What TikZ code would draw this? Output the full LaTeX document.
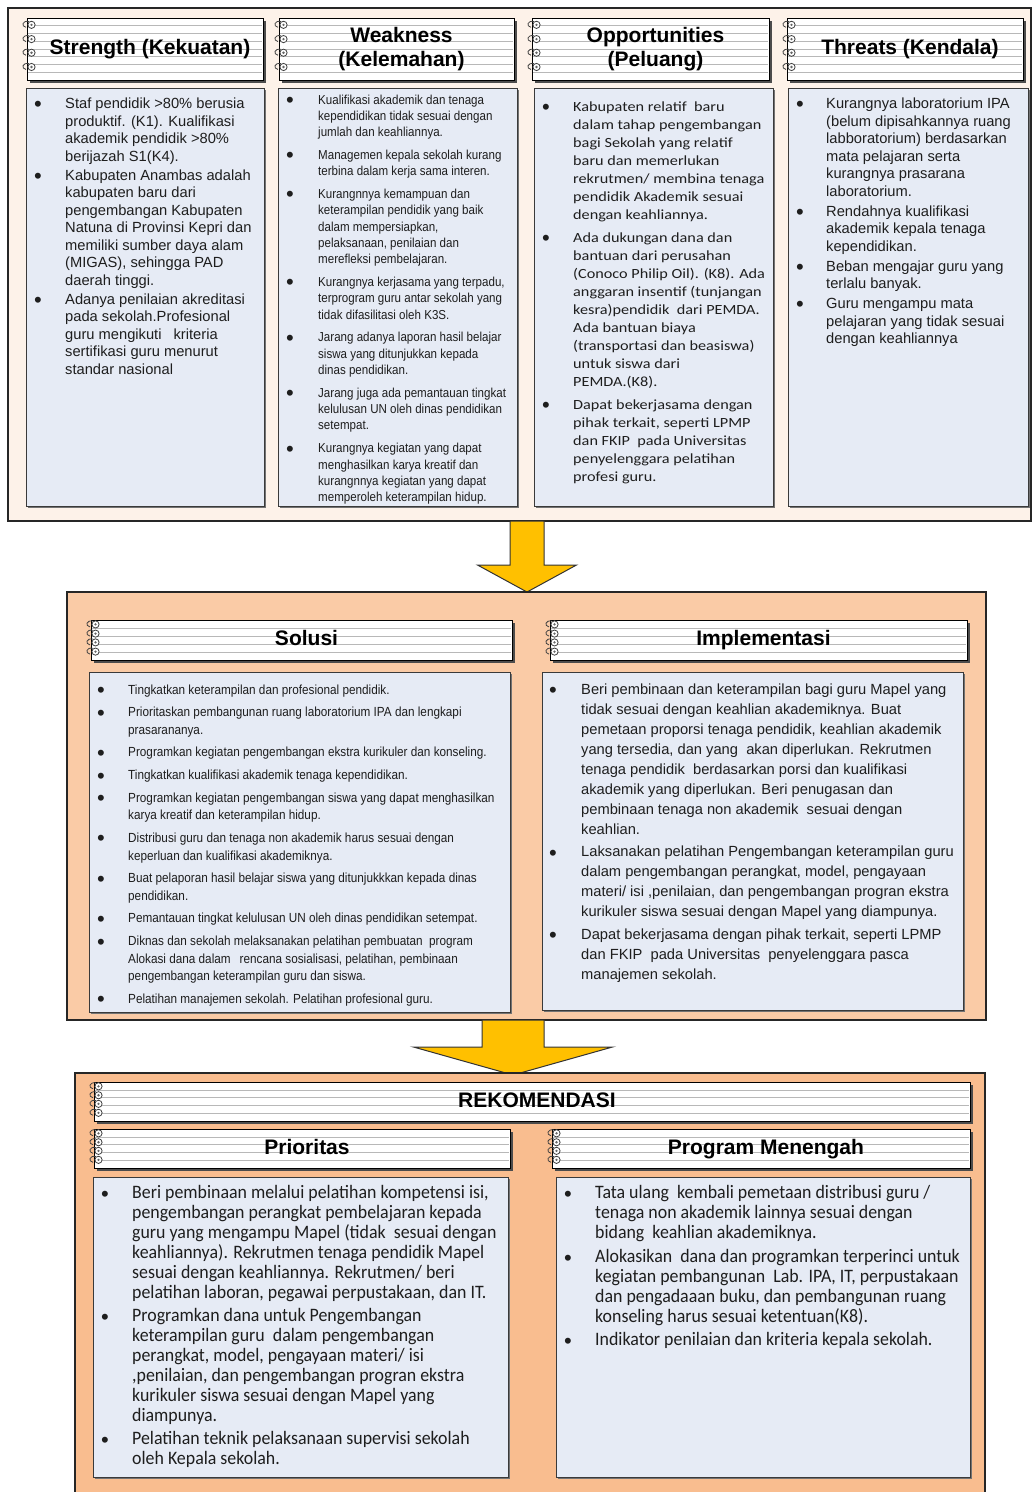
\documentclass[tikz,border=0pt]{standalone}
\usepackage{fontspec}
\usepackage{array}
\setmainfont{Liberation Sans}
\newfontfamily\narrowfont{Liberation Sans}[FakeStretch=0.89]
\newfontfamily\calfont{Carlito}[FakeStretch=0.94]
\newfontfamily\widecal{Carlito}[FakeStretch=1.16]
\newfontfamily\bulfont{Liberation Sans}

\definecolor{panelA}{HTML}{FDF2E9}
\definecolor{panelB}{HTML}{FACBA6}
\definecolor{panelC}{HTML}{F9BD8F}
\definecolor{boxfill}{HTML}{E6EBF5}
\definecolor{boxline}{HTML}{3A3A3A}
\definecolor{arrowgold}{HTML}{FFC000}
\definecolor{txt}{HTML}{1E1E1E}

\tikzset{
  panel/.style={draw=black!85, line width=1.4pt},
  cbox/.style={fill=boxfill, draw=boxline, line width=1pt},
  cshadow/.style={fill=black!55},
  hshadow/.style={fill=black!70},
  hbox/.style={draw=black, line width=0.9pt},
  hrule/.style={draw=black!28, line width=0.6pt},
  ring/.style={draw=black!75, line width=0.8pt},
  htext/.style={font=\bfseries\fontsize{21}{24}\selectfont, align=center, inner sep=0pt, text=black},
  oneline/.style={text height=15.1pt, text depth=0pt, yshift=2pt},
  blist/.style={anchor=base west, inner sep=0pt, text=txt},
  bigarrow/.style={fill=arrowgold, draw=black!80, line width=1pt, line join=miter},
}

% bullet list: #1 = bullet column width (pt), #2 = rows
\newcommand{\blst}[2]{\begin{tabular}[t]{@{}p{#1pt}@{}l@{}}#2\end{tabular}}
% large round bullet, same size in every list
\newcommand{\bu}{\raisebox{-3.4pt}{\bulfont\fontsize{22}{22}\selectfont\textbullet}}

% content box: #1 x1, #2 y1, #3 x2, #4 y2
\newcommand{\cbox}[4]{%
  \fill[cshadow] (#1+2,#2+2) rectangle (#3+2,#4+2);
  \draw[cbox] (#1,#2) rectangle (#3,#4);
}

% spiral-notebook header: [#1 text options], #2 name, #3 x1, #4 y1, #5 x2, #6 y2, #7 text
\newcommand{\nbhead}[7][]{%
  \fill[hshadow] (#3+3,#4+3) rectangle (#5+3,#6+3);
  \fill[white] (#3,#4) rectangle (#5,#6);
  \pgfmathtruncatemacro{\nl}{round((#6-#4-6)/8.5)}
  \foreach \k in {1,...,\nl}{
    \pgfmathsetmacro{\ly}{#4+\k*(#6-#4)/(\nl+1)}
    \draw[hrule] (#3+1,\ly) -- (#5-1,\ly);
  }
  \draw[hbox] (#3,#4) rectangle (#5,#6);
  \foreach \f in {0.11,0.34,0.56,0.79}{
    \pgfmathsetmacro{\ry}{#4+\f*(#6-#4)}
    \draw[ring] ({#3+2},{\ry-3.4}) .. controls ({#3-5},{\ry-4.5}) and ({#3-6},{\ry+1.5}) .. ({#3-1},{\ry+2.5});
    \draw[ring, fill=white] ({#3+4.5},\ry) circle (3.6);
    \fill[black!60] ({#3+4.5},\ry) circle (1.3);
  }
  \node[htext,#1] (#2) at ({(#3+10+#5)/2},{(#4+#6)/2}) {#7};
}

\begin{document}
\begin{tikzpicture}[x=1pt,y=-1pt]
\useasboundingbox (0,0) rectangle (1034,1492);
\fill[white] (0,0) rectangle (1034,1492);

% ---------------- SWOT panel ----------------
\draw[panel, fill=panelA] (8,8) rectangle (1031,521);

\nbhead[oneline]{hS}{27}{18}{263}{80}{Strength (Kekuatan)}
\nbhead{hW}{279}{18}{514}{80}{Weakness\\(Kelemahan)}
\nbhead{hO}{532}{18}{769}{80}{Opportunities\\(Peluang)}
\nbhead[oneline]{hT}{787}{18}{1023}{80}{Threats (Kendala)}

\cbox{26}{88}{264}{506}
\cbox{278}{88}{517}{506}
\cbox{534}{88}{773}{506}
\cbox{788}{88}{1028}{506}

\node[blist, font=\fontsize{14.7}{17.5}\selectfont] (tS) at (34,108.5) {\blst{31}{%
\bu & Staf pendidik >80\% berusia\\
    & produktif. (K1). Kualifikasi\\
    & akademik pendidik >80\%\\
    & berijazah S1(K4).\\[1.5pt]
\bu & Kabupaten Anambas adalah\\
    & kabupaten baru dari\\
    & pengembangan Kabupaten\\
    & Natuna di Provinsi Kepri dan\\
    & memiliki sumber daya alam\\
    & (MIGAS), sehingga PAD\\
    & daerah tinggi.\\[1.5pt]
\bu & Adanya penilaian akreditasi\\
    & pada sekolah.Profesional\\
    & guru mengikuti\hspace{12pt}kriteria\\
    & sertifikasi guru menurut\\
    & standar nasional}};

\node[blist, font=\narrowfont\fontsize{13}{16.3}\selectfont] (tW) at (286,104) {\blst{32}{%
\bu & Kualifikasi akademik dan tenaga\\
    & kependidikan tidak sesuai dengan\\
    & jumlah dan keahliannya.\\[6.5pt]
\bu & Managemen kepala sekolah kurang\\
    & terbina dalam kerja sama interen.\\[6.5pt]
\bu & Kurangnnya kemampuan dan\\
    & keterampilan pendidik yang baik\\
    & dalam mempersiapkan,\\
    & pelaksanaan, penilaian dan\\
    & merefleksi pembelajaran.\\[6.5pt]
\bu & Kurangnya kerjasama yang terpadu,\\
    & terprogram guru antar sekolah yang\\
    & tidak difasilitasi oleh K3S.\\[6.5pt]
\bu & Jarang adanya laporan hasil belajar\\
    & siswa yang ditunjukkan kepada\\
    & dinas pendidikan.\\[6.5pt]
\bu & Jarang juga ada pemantauan tingkat\\
    & kelulusan UN oleh dinas pendidikan\\
    & setempat.\\[6.5pt]
\bu & Kurangnya kegiatan yang dapat\\
    & menghasilkan karya kreatif dan\\
    & kurangnnya kegiatan yang dapat\\
    & memperoleh keterampilan hidup.}};

\node[blist, font=\widecal\fontsize{14}{18}\selectfont] (tO) at (542,111.5) {\blst{31}{%
\bu & Kabupaten relatif\ \ baru\\
    & dalam tahap pengembangan\\
    & bagi Sekolah yang relatif\\
    & baru dan memerlukan\\
    & rekrutmen/ membina tenaga\\
    & pendidik Akademik sesuai\\
    & dengan keahliannya.\\[5pt]
\bu & Ada dukungan dana dan\\
    & bantuan dari perusahan\\
    & (Conoco Philip Oil). (K8). Ada\\
    & anggaran insentif (tunjangan\\
    & kesra)pendidik\ \ dari PEMDA.\\
    & Ada bantuan biaya\\
    & (transportasi dan beasiswa)\\
    & untuk siswa dari\\
    & PEMDA.(K8).\\[5pt]
\bu & Dapat bekerjasama dengan\\
    & pihak terkait, seperti LPMP\\
    & dan FKIP\ \ pada Universitas\\
    & penyelenggara pelatihan\\
    & profesi guru.}};

\node[blist, font=\fontsize{14.7}{17.5}\selectfont] (tT) at (796,108.5) {\blst{30}{%
\bu & Kurangnya laboratorium IPA\\
    & (belum dipisahkannya ruang\\
    & labboratorium) berdasarkan\\
    & mata pelajaran serta\\
    & kurangnya prasarana\\
    & laboratorium.\\[2.5pt]
\bu & Rendahnya kualifikasi\\
    & akademik kepala tenaga\\
    & kependidikan.\\[2.5pt]
\bu & Beban mengajar guru yang\\
    & terlalu banyak.\\[2.5pt]
\bu & Guru mengampu mata\\
    & pelajaran yang tidak sesuai\\
    & dengan keahliannya}};

% arrow from SWOT panel down to the solution panel
\coordinate (a1) at (527,521);
\begin{scope}[shift={(a1)}]
  \draw[bigarrow] (-17,0) -- (17,0) -- (17,44) -- (49.5,44) -- (0,71) -- (-49.5,44) -- (-17,44) -- cycle;
\end{scope}

% ---------------- Solusi / Implementasi panel ----------------
\draw[panel, fill=panelB] (67,592) rectangle (986,1020);

\nbhead[oneline]{hSol}{91}{620}{512}{660}{Solusi}
\nbhead[oneline]{hImp}{550}{620}{967}{660}{Implementasi}

\cbox{89}{672}{510}{1012}
\cbox{542}{672}{963}{1010}

\node[blist, font=\narrowfont\fontsize{13.2}{17.5}\selectfont] (tSol) at (97,694) {\blst{31}{%
\bu & Tingkatkan keterampilan dan profesional pendidik.\\[5.2pt]
\bu & Prioritaskan pembangunan ruang laboratorium IPA dan lengkapi\\
    & prasarananya.\\[5.2pt]
\bu & Programkan kegiatan pengembangan ekstra kurikuler dan konseling.\\[5.2pt]
\bu & Tingkatkan kualifikasi akademik tenaga kependidikan.\\[5.2pt]
\bu & Programkan kegiatan pengembangan siswa yang dapat menghasilkan\\
    & karya kreatif dan keterampilan hidup.\\[5.2pt]
\bu & Distribusi guru dan tenaga non akademik harus sesuai dengan\\
    & keperluan dan kualifikasi akademiknya.\\[5.2pt]
\bu & Buat pelaporan hasil belajar siswa yang ditunjukkkan kepada dinas\\
    & pendidikan.\\[5.2pt]
\bu & Pemantauan tingkat kelulusan UN oleh dinas pendidikan setempat.\\[5.2pt]
\bu & Diknas dan sekolah melaksanakan pelatihan pembuatan\ \ program\\
    & Alokasi dana dalam\hspace{9pt}rencana sosialisasi, pelatihan, pembinaan\\
    & pengembangan keterampilan guru dan siswa.\\[5.2pt]
\bu & Pelatihan manajemen sekolah. Pelatihan profesional guru.}};

\node[blist, font=\fontsize{14.7}{20}\selectfont] (tImp) at (549,694.4) {\blst{32}{%
\bu & Beri pembinaan dan keterampilan bagi guru Mapel yang\\
    & tidak sesuai dengan keahlian akademiknya. Buat\\
    & pemetaan proporsi tenaga pendidik, keahlian akademik\\
    & yang tersedia, dan yang\ \ akan diperlukan. Rekrutmen\\
    & tenaga pendidik\ \ berdasarkan porsi dan kualifikasi\\
    & akademik yang diperlukan. Beri penugasan dan\\
    & pembinaan tenaga non akademik\ \ sesuai dengan\\
    & keahlian.\\[2.5pt]
\bu & Laksanakan pelatihan Pengembangan keterampilan guru\\
    & dalam pengembangan perangkat, model, pengayaan\\
    & materi/ isi ,penilaian, dan pengembangan progran ekstra\\
    & kurikuler siswa sesuai dengan Mapel yang diampunya.\\[2.5pt]
\bu & Dapat bekerjasama dengan pihak terkait, seperti LPMP\\
    & dan FKIP\ \ pada Universitas\ \ penyelenggara pasca\\
    & manajemen sekolah.}};

% arrow from the solution panel down to the recommendations
\coordinate (a2) at (513,1020);
\begin{scope}[shift={(a2)}]
  \draw[bigarrow] (-31,0) -- (31,0) -- (31,27) -- (99.5,27) -- (0,55) -- (-99.5,27) -- (-31,27) -- cycle;
\end{scope}

% ---------------- Rekomendasi panel ----------------
\draw[panel, fill=panelC] (75,1073) rectangle (985,1500);

\nbhead[oneline]{hRek}{94}{1082}{970}{1121}{REKOMENDASI}
\nbhead[oneline]{hPri}{94}{1129}{510}{1168}{Prioritas}
\nbhead[oneline]{hPM}{552}{1129}{970}{1168}{Program Menengah}

\cbox{93}{1177}{508}{1477}
\cbox{556}{1177}{970}{1477}

\node[blist, font=\calfont\fontsize{19}{20}\selectfont] (tPri) at (101,1198.5) {\blst{31}{%
\bu & Beri pembinaan melalui pelatihan kompetensi isi,\\
    & pengembangan perangkat pembelajaran kepada\\
    & guru yang mengampu Mapel (tidak\ \ sesuai dengan\\
    & keahliannya). Rekrutmen tenaga pendidik Mapel\\
    & sesuai dengan keahliannya. Rekrutmen/ beri\\
    & pelatihan laboran, pegawai perpustakaan, dan IT.\\[3pt]
\bu & Programkan dana untuk Pengembangan\\
    & keterampilan guru\ \ dalam pengembangan\\
    & perangkat, model, pengayaan materi/ isi\\
    & ,penilaian, dan pengembangan progran ekstra\\
    & kurikuler siswa sesuai dengan Mapel yang\\
    & diampunya.\\[3pt]
\bu & Pelatihan teknik pelaksanaan supervisi sekolah\\
    & oleh Kepala sekolah.}};

\node[blist, font=\calfont\fontsize{19}{20}\selectfont] (tPM) at (564,1198.5) {\blst{31}{%
\bu & Tata ulang\ \ kembali pemetaan distribusi guru /\\
    & tenaga non akademik lainnya sesuai dengan\\
    & bidang\ \ keahlian akademiknya.\\[3.5pt]
\bu & Alokasikan\ \ dana dan programkan terperinci untuk\\
    & kegiatan pembangunan\ \ Lab. IPA, IT, perpustakaan\\
    & dan pengadaaan buku, dan pembangunan ruang\\
    & konseling harus sesuai ketentuan(K8).\\[3.5pt]
\bu & Indikator penilaian dan kriteria kepala sekolah.}};

\end{tikzpicture}
\end{document}
